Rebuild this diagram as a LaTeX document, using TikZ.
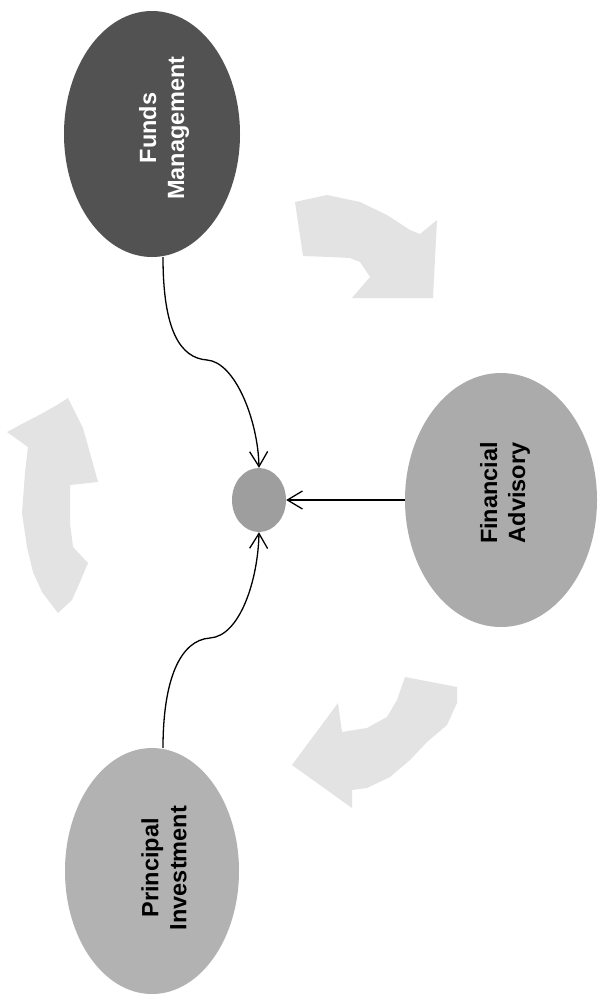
\documentclass[tikz,border=0pt]{standalone}
\usepackage{fontspec}
\setmainfont{Liberation Sans}
\usetikzlibrary{shapes.geometric,arrows.meta}
\begin{document}
\begin{tikzpicture}[x=1pt,y=-1pt,
  bubble/.style={ellipse, inner sep=0pt, draw=none},
  lbl/.style={rotate=90, align=center, font=\fontsize{23.5}{28}\selectfont\bfseries, inner sep=0pt},
  link/.style={line width=1.3pt, -{Straight Barb[length=15pt,width=18pt,line width=1.3pt]}},
  cyc/.style={fill=black!11, draw=none}]
\fill[white] (0,0) rectangle (599,1001);
\useasboundingbox (0,0) rectangle (599,1001);

% cycle arrows
\fill[cyc] (295,202) -- (327,195) -- (360,202) -- (387,215) -- (410,230) -- (420,234) -- (437,220)
  -- (433,298) -- (352,298) -- (370,277) -- (360,262) -- (350,258) -- (330,257) -- (303,256) -- cycle;
\fill[cyc] (405,677) -- (457,687) -- (457,703) -- (447,725) -- (427,742) -- (410,760) -- (390,777)
  -- (367,788) -- (352,790) -- (352,808) -- (292,765) -- (338,703) -- (342,732) -- (367,728)
  -- (387,717) -- (397,700) -- cycle;
\fill[cyc] (68,398) -- (83,428) -- (98,482) -- (70,485) -- (70,523) -- (73,547) -- (88,563)
  -- (80,582) -- (72,600) -- (58,613) -- (42,592) -- (33,572) -- (27,547) -- (22,513)
  -- (25,473) -- (28,447) -- (7,432) -- (20,425) -- (43,413) -- (57,405) -- cycle;

% bubbles
\node[bubble, fill=black!68, minimum width=176pt, minimum height=246pt] (fm) at (152,134) {};
\node[bubble, fill=black!33, minimum width=192pt, minimum height=254pt] (fa) at (501,500) {};
\node[bubble, fill=black!30, minimum width=174pt, minimum height=246pt] (pi) at (152,871) {};
\node[bubble, fill=black!38, minimum width=54pt, minimum height=64pt] (hub) at (259,500) {};

% labels
\node[lbl, text=white] (fmt) at (164,128) {Funds\\Management};
\node[lbl] (fat) at (505,493) {Financial\\Advisory};
\node[lbl] (pit) at (164,868) {Principal\\Investment};

% connectors
\draw[link] ([xshift=11pt]fm.south) .. controls (163,330) and (180,358) .. (207,360)
  .. controls (235,362) and (258,420) .. (hub.north);
\draw[link] (fa.west) -- (hub.east);
\draw[link] ([xshift=11pt]pi.north) .. controls (163,680) and (180,640) .. (210,638)
  .. controls (240,636) and (258,580) .. (hub.south);
\end{tikzpicture}
\end{document}
